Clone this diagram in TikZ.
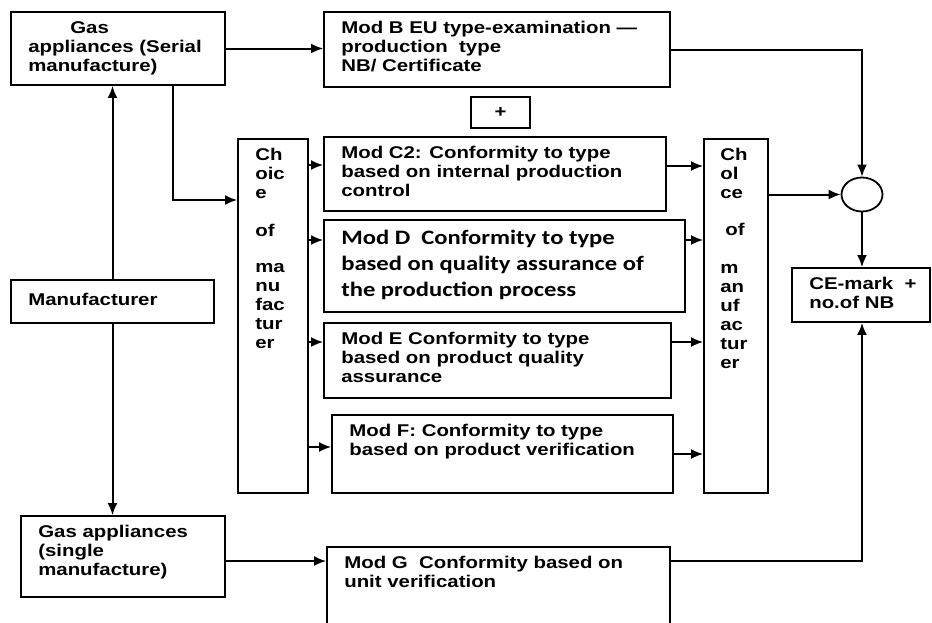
\documentclass[tikz,border=0pt]{standalone}
\usepackage{fontspec}
\setmainfont{Liberation Sans}[FakeStretch=1.2]
\newfontfamily\calfont{Carlito}[FakeStretch=1.2]
\usetikzlibrary{arrows.meta,positioning,shapes.geometric}
\tikzset{>={Latex[length=12pt,width=10pt]}}
\tikzset{
  gbox/.style={draw,line width=1.8pt,inner sep=0pt},
  conn/.style={->,line width=2pt},
  btext/.style={anchor=north west,align=left,inner xsep=18pt,inner ysep=10pt,
    font=\bfseries\fontsize{17}{19}\selectfont},
  ctext/.style={btext,inner ysep=11pt,font=\calfont\bfseries\fontsize{20.5}{26}\selectfont}
}

\begin{document}
\begin{tikzpicture}[x=1pt,y=-1pt]
  \clip (0,0) rectangle (932,622);
  % left column
  \node[gbox,minimum width=214pt,minimum height=73pt] (gass) at (118,48.5) {};
  \node[btext] (gass-t) at (gass.north west) {\hspace*{42pt}Gas\\appliances (Serial\\manufacture)};
  \node[gbox,minimum width=203pt,minimum height=43pt] (manu) at (112.5,301.5) {};
  \node[btext,inner ysep=14pt] (manu-t) at (manu.north west) {Manufacturer};
  \node[gbox,minimum width=204pt,minimum height=81pt] (gasg) at (123,556.5) {};
  \node[btext] (gasg-t) at (gasg.north west) {Gas appliances\\(single\\manufacture)};
  % modules
  \node[gbox,minimum width=346pt,minimum height=75pt] (modb) at (497,49.5) {};
  \node[btext] (modb-t) at (modb.north west) {Mod B EU type-examination ---\\production\ \ type\\NB/ Certificate};
  \node[gbox,minimum width=59pt,minimum height=31pt,font=\bfseries\fontsize{17}{19}\selectfont] (plus) at (500.5,112.5) {+};
  \node[gbox,minimum width=342pt,minimum height=74pt] (modc) at (495,174) {};
  \node[btext] (modc-t) at (modc.north west) {Mod C2: Conformity to type\\based on internal production\\control};
  \node[gbox,minimum width=361pt,minimum height=92pt] (modd) at (504.5,266) {};
  \node[ctext] (modd-t) at (modd.north west) {Mod D\ \ Conformity to type\\based on quality assurance of\\the production process};
  \node[gbox,minimum width=347pt,minimum height=75pt] (mode) at (497.5,360.5) {};
  \node[btext] (mode-t) at (mode.north west) {Mod E Conformity to type\\based on product quality\\assurance};
  \node[gbox,minimum width=341pt,minimum height=78pt] (modf) at (502.5,454) {};
  \node[btext] (modf-t) at (modf.north west) {Mod F: Conformity to type\\based on product verification};
  \node[gbox,minimum width=343pt,minimum height=93pt] (modg) at (498.5,593.5) {};
  \node[btext] (modg-t) at (modg.north west) {Mod G\ \ Conformity based on\\unit verification};
  % choice of manufacturer
  \node[gbox,minimum width=70pt,minimum height=354pt] (choicel) at (273,316) {};
  \node[btext] (choicel-t) at (choicel.north west) {Ch\\oic\\e\\[19pt]of\\[17pt]ma\\nu\\fac\\tur\\er};
  \node[gbox,minimum width=64pt,minimum height=354pt] (choicer) at (736,316) {};
  \node[btext,inner xsep=17pt] (choicer-t) at (choicer.north west) {Ch\\ol\\ce\\[18pt]\hspace*{5pt}of\\[19pt]m\\an\\uf\\ac\\tur\\er};
  % result
  \node[gbox,ellipse,minimum width=41pt,minimum height=34pt] (circ) at (862,194.5) {};
  \node[gbox,minimum width=138pt,minimum height=54pt] (ce) at (861,295) {};
  \node[btext] (ce-t) at (ce.north west) {CE-mark\ \ +\\no.of NB};
  % connectors
  \draw[conn] (gass.east) -- (gass.east -| modb.west);
  \draw[conn] (modb.east) -| (circ.north);
  \draw[conn] ([xshift=55pt]gass.south) |- (choicel.west |- 0,200);
  \draw[conn] (manu.north) -- (manu.north |- gass.south);
  \draw[conn] (manu.south) -- (manu.south |- gasg.north);
  \foreach \m/\yin/\yout in {modc/165/166, modd/240/240, mode/342/342, modf/447/454} {
    \draw[conn] (choicel.east |- 0,\yin) -- (\m.west |- 0,\yin);
    \draw[conn] (\m.east |- 0,\yout) -- (choicer.west |- 0,\yout);
  }
  \draw[conn] (choicer.east |- circ.west) -- (circ.west);
  \draw[conn] (circ.south) -- (circ.south |- ce.north);
  \draw[conn] (gasg.east |- 0,561) -- (modg.west |- 0,561);
  \draw[conn] (modg.east |- 0,561) -| (circ.south |- ce.south);
\end{tikzpicture}
\end{document}
